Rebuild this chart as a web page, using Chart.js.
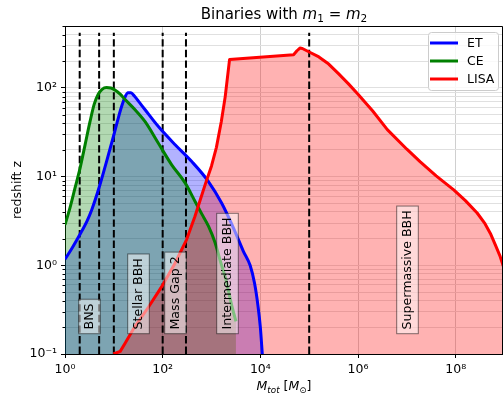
<!DOCTYPE html>
<html><head><meta charset="utf-8">
<script src="https://cdn.jsdelivr.net/npm/chart.js@4.4.0/dist/chart.umd.min.js"></script>
<style>html,body{margin:0;padding:0;background:#fff;}#wrap{width:503px;height:394px;}</style>
</head><body><div id="wrap"><canvas id="c" width="503" height="394"></canvas></div>
<script>
// ---- data ----
const seriesNames = ['ET', 'CE', 'LISA'];
const etMass = [1, 1.41, 2.03, 2.82, 3.55, 5.01, 7.08, 10, 12.6, 14.8, 17.0, 19.5, 22.4, 26.3, 33.1, 43.7, 81.7, 180, 394, 865, 1620, 2820, 4470, 6170, 7590, 8910, 10000, 10960];
const etZ    = [1.17, 1.58, 2.24, 3.16, 4.27, 7.59, 14.8, 29.5, 47.9, 64.6, 79.4, 88.1, 88.1, 81.3, 69.2, 56.8, 36.7, 22.9, 14.8, 8.81, 5.01, 2.63, 1.45, 1.0, 0.631, 0.355, 0.2, 0.1];
const ceMass = [1, 1.26, 1.6, 2.03, 2.57, 3.25, 3.98, 4.79, 5.75, 7.08, 8.71, 10.7, 13.5, 17.0, 27.2, 43.7, 81.7, 153, 288, 461, 631, 871, 1175, 1514, 1995, 2512, 3160];
const ceZ    = [2.86, 4.41, 7.41, 12.4, 22.7, 41.7, 66.1, 85.1, 96.6, 101, 100, 94.4, 85.1, 74.1, 56.8, 41.7, 23.8, 13.6, 8.51, 5.25, 3.8, 2.75, 1.82, 1.12, 0.676, 0.38, 0.234];
const lisaMass = [9.77, 13.5, 17, 26.9, 51.3, 95.5, 178, 309, 457, 589, 741, 1000, 1260, 1585, 1905, 2340, 47900, 56200, 64600, 72400, 105000, 158000, 251000, 398000, 631000, 1.0e6, 2.0e6, 3.98e6, 1.0e7, 1.86e7, 3.98e7, 9.12e7, 1.58e8, 2.75e8, 3.98e8, 5.13e8, 6.61e8, 8.13e8, 1.0e9];
const lisaZ    = [0.1, 0.107, 0.132, 0.204, 0.339, 0.575, 1.05, 1.95, 3.55, 5.5, 8.13, 13.2, 21.4, 41.7, 79.4, 209, 237, 263, 282, 279, 251, 224, 186, 145, 112, 85.1, 55, 33.9, 20.4, 14.8, 10.2, 7.08, 5.37, 3.89, 2.95, 2.29, 1.66, 1.26, 0.89];
const boundaryMass = [2, 5, 10, 100, 300, 1e5];
const boundaryZ = [0.1, 420];
const regionLabels = ['BNS', 'Stellar BBH', 'Mass Gap 2', 'Intermediate BBH', 'Supermassive BBH'];
const regionLabelMass = [3.1, 31, 180, 2050, 1e7];
const regionLabelZ = 0.19;
const xTickValues = [1, 1e2, 1e4, 1e6, 1e8];
const xTickLabels = ['10⁰', '10²', '10⁴', '10⁶', '10⁸'];
const yMajorValues = [0.1, 1, 10, 100];
const yTickLabels = ['10⁻¹', '10⁰', '10¹', '10²'];
const xRange = [1, 9.3e8];
const yRange = [0.1, 500];
const titleText = ['Binaries with ', 'm', '1', ' = ', 'm', '2'];
const xTitleText = ['M', 'tot', ' [', 'M', '⊙', ']'];
const yTitleText = 'redshift z';

// ---- build ----
const FONT = "'DejaVu Sans', sans-serif";
const pts = (xs, ys) => xs.map((x, i) => ({ x: x, y: ys[i] }));
const colors = ['#0000ff', '#008000', '#ff0000'];
const fills = ['rgba(0,0,255,0.3)', 'rgba(0,128,0,0.3)', 'rgba(255,0,0,0.3)'];
const seriesData = [pts(etMass, etZ), pts(ceMass, ceZ), pts(lisaMass, lisaZ)];

const datasets = seriesNames.map((n, i) => ({
  label: n, data: seriesData[i], borderColor: colors[i], backgroundColor: fills[i],
  fill: 'start', borderWidth: 3, pointRadius: 0, borderJoinStyle: 'round',
  cubicInterpolationMode: i < 2 ? 'monotone' : 'default', tension: 0, order: 3 - i
}));
boundaryMass.forEach(b => datasets.push({
  label: '_boundary', data: [{ x: b, y: boundaryZ[0] }, { x: b, y: boundaryZ[1] }],
  borderColor: '#000', borderWidth: 2, borderDash: [7.4, 3.2], fill: false, pointRadius: 0, order: 10
}));

const yTicks = [];
yMajorValues.forEach(m => { for (let k = 1; k <= 9; k++) { const v = k === 1 ? m : m * k; if (v >= yRange[0] && v <= yRange[1] * 1.0001) yTicks.push(v); } });

function drawRich(ctx, segs, x, y) {
  let total = 0;
  const ws = segs.map(s => { ctx.font = (s[2] ? 'italic ' : '') + s[1] + 'px ' + FONT; const w = ctx.measureText(s[0]).width; total += w; return w; });
  let cx = x - total / 2;
  segs.forEach((s, i) => { ctx.font = (s[2] ? 'italic ' : '') + s[1] + 'px ' + FONT; ctx.fillText(s[0], cx, y + (s[3] || 0)); cx += ws[i]; });
}

const decor = {
  id: 'decor',
  afterDatasetsDraw(chart) {
    const { ctx, chartArea: a, scales: { x, y } } = chart;
    ctx.save();
    ctx.beginPath(); ctx.rect(a.left, a.top, a.right - a.left, a.bottom - a.top); ctx.clip();
    ctx.font = '12.6px ' + FONT;
    regionLabels.forEach((t, i) => {
      const px = x.getPixelForValue(regionLabelMass[i]);
      const py = y.getPixelForValue(regionLabelZ);
      const w = ctx.measureText(t).width;
      const pad = 4.2, hh = 10.8;
      ctx.save(); ctx.translate(Math.round(px) + 0.5, Math.round(py) + 0.5); ctx.rotate(-Math.PI / 2);
      ctx.fillStyle = 'rgba(255,255,255,0.5)';
      ctx.fillRect(-pad, -hh, w + 2 * pad, 2 * hh);
      ctx.strokeStyle = 'rgba(0,0,0,0.5)'; ctx.lineWidth = 1;
      ctx.strokeRect(-pad, -hh, w + 2 * pad, 2 * hh);
      ctx.fillStyle = '#000'; ctx.textBaseline = 'middle'; ctx.textAlign = 'left';
      ctx.fillText(t, 0, 0.5);
      ctx.restore();
    });
    ctx.restore();
  },
  afterDraw(chart) {
    const { ctx, chartArea: a, scales: { y } } = chart;
    ctx.save();
    ctx.strokeStyle = '#000'; ctx.lineWidth = 1;
    ctx.beginPath();
    ctx.moveTo(a.left, a.top + 0.5); ctx.lineTo(a.right - 0.5, a.top + 0.5); ctx.lineTo(a.right - 0.5, a.bottom);
    ctx.stroke();
    ctx.beginPath();
    yTicks.forEach(v => { if (yMajorValues.indexOf(v) < 0) { const py = Math.round(y.getPixelForValue(v)) + 0.5; ctx.moveTo(a.left - 2.5, py); ctx.lineTo(a.left, py); } });
    ctx.stroke();
    const lx = a.right - 75, ly = a.top + 6, lw = 70, lh = 58;
    ctx.beginPath();
    ctx.roundRect(lx + 0.5, ly + 0.5, lw, lh, 3);
    ctx.fillStyle = 'rgba(255,255,255,0.8)'; ctx.fill();
    ctx.strokeStyle = '#cccccc'; ctx.stroke();
    ctx.font = '12.5px ' + FONT; ctx.textBaseline = 'middle'; ctx.textAlign = 'left';
    for (let i = 0; i < seriesNames.length; i++) {
      const ds = chart.data.datasets[i];
      const ry = ly + 11 + i * 18;
      ctx.strokeStyle = ds.borderColor; ctx.lineWidth = 3;
      ctx.beginPath(); ctx.moveTo(lx + 2, ry); ctx.lineTo(lx + 30, ry); ctx.stroke();
      ctx.fillStyle = '#000'; ctx.fillText(ds.label, lx + 39, ry + 1);
    }
    ctx.fillStyle = '#000'; ctx.textBaseline = 'alphabetic'; ctx.textAlign = 'left';
    const cx = (a.left + a.right) / 2;
    drawRich(ctx, [[titleText[0], 15, false], [titleText[1], 15, true], [titleText[2], 10.5, false, 3], [titleText[3], 15, false], [titleText[4], 15, true], [titleText[5], 10.5, false, 3]], cx, 19);
    drawRich(ctx, [[xTitleText[0], 12.5, true], [xTitleText[1], 8.75, true, 2.5], [xTitleText[2], 12.5, false], [xTitleText[3], 12.5, true], [xTitleText[4], 8.75, false, 2.5], [xTitleText[5], 12.5, false]], cx, 390);
    ctx.save();
    ctx.translate(20.5, (a.top + a.bottom) / 2); ctx.rotate(-Math.PI / 2);
    ctx.font = '12.5px ' + FONT; ctx.textAlign = 'center';
    ctx.fillText(yTitleText, 0, 0);
    ctx.restore();
    ctx.restore();
  }
};

new Chart(document.getElementById('c'), {
  type: 'line',
  data: { datasets },
  options: {
    responsive: false, animation: false, devicePixelRatio: 1,
    layout: { padding: { top: 26, right: 0, left: 0, bottom: 0 } },
    plugins: { legend: { display: false }, title: { display: false }, tooltip: { enabled: false }, filler: { drawTime: 'beforeDatasetsDraw' } },
    scales: {
      x: {
        type: 'logarithmic', min: xRange[0], max: xRange[1],
        afterBuildTicks: s => { s.ticks = xTickValues.map(v => ({ value: v, major: true })); },
        afterFit: s => { s.height = 40; },
        ticks: { autoSkip: false, maxRotation: 0, padding: 4, color: '#000', font: { family: FONT, size: 12.5 },
          callback: v => { const i = xTickValues.indexOf(v); return i >= 0 ? xTickLabels[i] : ''; } },
        grid: { color: '#cfcfcf', lineWidth: 1, tickColor: '#000', tickLength: 4 },
        border: { display: true, color: '#000', width: 1 }
      },
      y: {
        type: 'logarithmic', min: yRange[0], max: yRange[1],
        afterBuildTicks: s => { s.ticks = yTicks.map(v => ({ value: v, major: yMajorValues.indexOf(v) >= 0 })); },
        afterFit: s => { s.width = 65; },
        ticks: { autoSkip: false, padding: 4, color: '#000', font: { family: FONT, size: 12.5 },
          callback: v => { const i = yMajorValues.indexOf(v); return i >= 0 ? yTickLabels[i] : ''; } },
        grid: { color: '#e0e0e0', lineWidth: 1, tickLength: 4,
          tickColor: c => (c.tick && yMajorValues.indexOf(c.tick.value) >= 0) ? '#000' : 'rgba(0,0,0,0)' },
        border: { display: true, color: '#000', width: 1 }
      }
    }
  },
  plugins: [decor]
});
</script>
</body></html>
